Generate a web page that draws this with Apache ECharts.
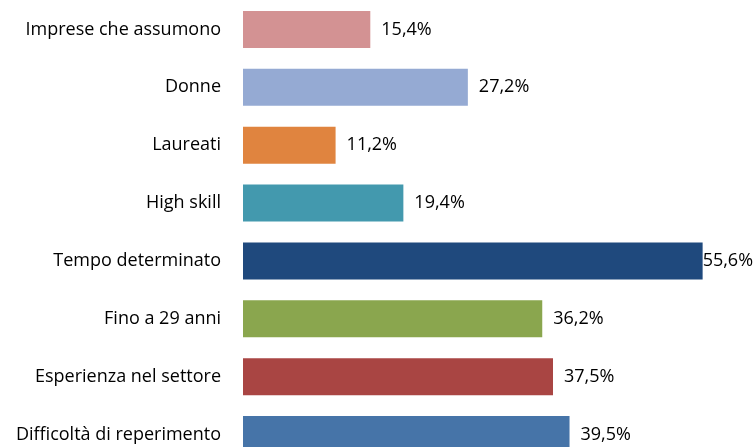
<!DOCTYPE html>
<html>
<head>
<meta charset="utf-8">
<script src="https://cdn.jsdelivr.net/npm/echarts@6/dist/echarts.min.js"></script>
<style>
  html, body { margin: 0; padding: 0; background: #fff; }
  #chart { width: 756px; height: 447px; }
</style>
</head>
<body>
<div id="chart"></div>
<script>
var categories = ['Imprese che assumono', 'Donne', 'Laureati', 'High skill',
    'Tempo determinato', 'Fino a 29 anni', 'Esperienza nel settore', 'Difficoltà di reperimento'];
var values = [15.4, 27.2, 11.2, 19.4, 55.6, 36.2, 37.5, 39.5];
var barColors = ['#D39293', '#95AAD3', '#E0843F', '#4399AE', '#1F497D', '#8AA64E', '#A94543', '#4674A8'];

var chart = echarts.init(document.getElementById('chart'));

var data = values.map(function (v, i) {
    var item = { value: v, itemStyle: { color: barColors[i] } };
    // la barra piu lunga ha l'etichetta attaccata
    if (v === Math.max.apply(null, values)) {
        item.label = { distance: 0 };
    }
    return item;
});

var option = {
    animation: false,
    grid: {
        left: 243, top: 0.5, width: 496, height: 463,
        containLabel: false,
        outerBoundsMode: 'none'
    },
    xAxis: {
        type: 'value',
        min: 0,
        max: 60,
        show: false
    },
    yAxis: {
        type: 'category',
        data: categories,
        inverse: true,
        axisLine: { show: false },
        axisTick: { show: false },
        axisLabel: {
            margin: 22,
            color: '#000',
            fontFamily: 'Open Sans',
            fontSize: 18
        }
    },
    series: [{
        type: 'bar',
        data: data,
        barWidth: 37,
        label: {
            show: true,
            position: 'right',
            distance: 11,
            color: '#000',
            fontFamily: 'Open Sans',
            fontSize: 18,
            formatter: function (p) {
                return p.value.toFixed(1).replace('.', ',') + '%';
            }
        }
    }]
};

chart.setOption(option);
</script>
</body>
</html>
